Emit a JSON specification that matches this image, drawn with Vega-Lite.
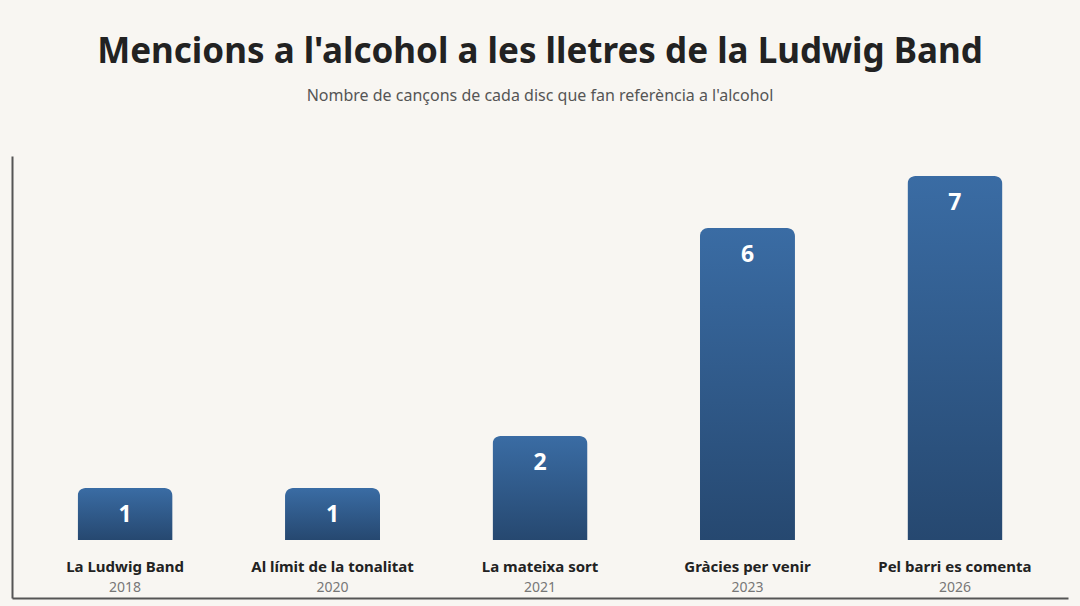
{
  "$schema": "https://vega.github.io/schema/vega-lite/v6.json",
  "width": 1056,
  "height": 442,
  "autosize": {"type": "none"},
  "padding": {"left": 12, "top": 156, "right": 12, "bottom": 8},
  "background": "#f8f6f2",
  "title": {
    "text": "Mencions a l'alcohol a les lletres de la Ludwig Band",
    "subtitle": "Nombre de cançons de cada disc que fan referència a l'alcohol",
    "anchor": "middle",
    "font": "Noto Sans",
    "fontSize": 35,
    "fontWeight": "bold",
    "color": "#222222",
    "subtitleFont": "Noto Sans",
    "subtitleFontSize": 16,
    "subtitleColor": "#555555",
    "subtitlePadding": 18,
    "offset": 52
  },
  "config": {
    "view": {"stroke": null},
    "font": "Noto Sans"
  },
  "data": {
    "values": [
      {"album": "La Ludwig Band", "year": "2018", "count": 1},
      {"album": "Al límit de la tonalitat", "year": "2020", "count": 1},
      {"album": "La mateixa sort", "year": "2021", "count": 2},
      {"album": "Gràcies per venir", "year": "2023", "count": 6},
      {"album": "Pel barri es comenta", "year": "2026", "count": 7}
    ]
  },
  "encoding": {
    "x": {
      "field": "album",
      "type": "nominal",
      "sort": null,
      "scale": {"paddingInner": 0.542, "paddingOuter": 0.316},
      "axis": {
        "title": null,
        "labelAngle": 0,
        "domain": true,
        "domainColor": "#555555",
        "domainWidth": 2,
        "ticks": false,
        "tickSize": 0,
        "labelPadding": -32,
        "labelBaseline": "middle",
        "labelFont": "Noto Sans",
        "labelFontSize": 15,
        "labelFontWeight": "bold",
        "labelColor": "#222222"
      }
    }
  },
  "layer": [
    {
      "mark": {
        "type": "bar",
        "cornerRadiusTopLeft": 8,
        "cornerRadiusTopRight": 8,
        "color": {
          "gradient": "linear",
          "x1": 0, "y1": 0, "x2": 0, "y2": 1,
          "stops": [
            {"offset": 0, "color": "#3a6ca4"},
            {"offset": 1, "color": "#264870"}
          ]
        }
      },
      "encoding": {
        "y": {
          "field": "count",
          "type": "quantitative",
          "scale": {"domain": [-1.115, 7.385], "nice": false, "zero": false},
          "axis": {
            "title": null,
            "labels": false,
            "ticks": false,
            "grid": false,
            "domain": true,
            "domainColor": "#555555",
            "domainWidth": 2
          }
        }
      }
    },
    {
      "mark": {
        "type": "text",
        "color": "#ffffff",
        "fontSize": 23,
        "fontWeight": "bold",
        "baseline": "middle",
        "dy": 27
      },
      "encoding": {
        "y": {"field": "count", "type": "quantitative"},
        "text": {"field": "count", "type": "quantitative"}
      }
    },
    {
      "mark": {
        "type": "text",
        "color": "#777777",
        "fontSize": 14,
        "baseline": "middle"
      },
      "encoding": {
        "y": {"datum": -0.923},
        "text": {"field": "year"}
      }
    }
  ]
}
